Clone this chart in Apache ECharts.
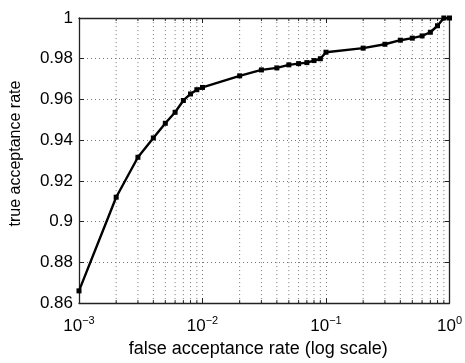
<!DOCTYPE html>
<html>
<head>
<meta charset="utf-8">
<script src="https://cdn.jsdelivr.net/npm/echarts@6/dist/echarts.min.js"></script>
<style>html,body{margin:0;padding:0;background:#fff;}#c{width:465px;height:363px;}</style>
</head>
<body>
<div id="c"></div>
<script>
var far = [0.001,0.002,0.003,0.004,0.005,0.006,0.007,0.008,0.009,0.01,0.02,0.03,0.04,0.05,0.06,0.07,0.08,0.09,0.1,0.2,0.3,0.4,0.5,0.6,0.7,0.8,0.9,1];
var tar = [0.866,0.912,0.9316,0.9411,0.9483,0.9537,0.9595,0.9627,0.9648,0.9659,0.9716,0.9745,0.9755,0.977,0.9776,0.9781,0.9791,0.980,0.9832,0.9852,0.9871,0.9891,0.9901,0.9912,0.993,0.9962,1.0,1.0];
var xTicks = [0.001,0.01,0.1,1];
var xTickLabels = ['-3','-2','-1','0'];
var minorTicks = [0.002,0.003,0.004,0.005,0.006,0.007,0.008,0.009,0.02,0.03,0.04,0.05,0.06,0.07,0.08,0.09,0.2,0.3,0.4,0.5,0.6,0.7,0.8,0.9];
var yMin = 0.86, yMax = 1, yStep = 0.02;

var FONT = 'Liberation Sans, Arial, Helvetica, sans-serif';
var AX = '#222';
var GRIDC = '#777';
var chart = echarts.init(document.getElementById('c'), null, {renderer:'canvas'});

function xFmt(v){
  for (var i=0;i<xTicks.length;i++){
    if (Math.abs(Math.log10(v)-Math.log10(xTicks[i]))<1e-6) return '{b|10}{s|' + xTickLabels[i].replace('-','\u2212') + '}';
  }
  return '';
}
var pts = far.map(function(x,i){return [x, tar[i]];});

var common = {
  type:'log', logBase:10, min:0.001, max:1,
  axisLine:{show:true, onZero:false, lineStyle:{color:AX, width:1.3}},
  axisTick:{show:true, inside:true, length:5, lineStyle:{color:AX, width:1}},
};
chart.setOption({
  animation:false,
  backgroundColor:'#fff',
  grid:{left:79, right:14, top:18, bottom:59, containLabel:false},
  xAxis:[
    Object.assign({}, common, {
      position:'bottom',
      name:'false acceptance rate (log scale)', nameLocation:'middle', nameGap:36,
      nameTextStyle:{color:'#000', fontSize:18, fontFamily:FONT, padding:[0,12,0,0]},
      axisLabel:{show:true, margin:12, formatter:xFmt, color:'#000',
        rich:{b:{fontSize:17, fontFamily:FONT, color:'#000'}, s:{fontSize:11, fontFamily:FONT, color:'#000', padding:[0,0,12,0]}}},
      splitLine:{show:true, lineStyle:{color:GRIDC, type:[1,3], width:1}}
    }),
    Object.assign({}, common, {
      position:'top',
      axisLabel:{show:false}, splitLine:{show:false}
    })
  ],
  yAxis:[
    {type:'value', min:yMin, max:yMax, interval:yStep, position:'left',
     name:'true acceptance rate', nameLocation:'middle', nameGap:55,
     nameTextStyle:{color:'#000', fontSize:16, fontFamily:FONT, padding:[0,0,0,14]},
     axisLine:{show:true, lineStyle:{color:AX, width:1.3}},
     axisTick:{show:true, inside:true, length:5, lineStyle:{color:AX}},
     axisLabel:{color:'#000', fontSize:17, fontFamily:FONT, margin:6},
     splitLine:{show:true, lineStyle:{color:GRIDC, type:[1,3], width:1}}},
    {type:'value', min:yMin, max:yMax, interval:yStep, position:'right',
     axisLine:{show:true, lineStyle:{color:AX, width:1.3}},
     axisTick:{show:true, inside:true, length:5, lineStyle:{color:AX}},
     axisLabel:{show:false}, splitLine:{show:false}}
  ],
  series:[
    {type:'custom', xAxisIndex:0, yAxisIndex:0, silent:true, z:1,
     data: minorTicks.map(function(x){return [x];}),
     renderItem:function(params, api){
       var x = api.value(0);
       var b = api.coord([x, yMin]), t = api.coord([x, yMax]);
       return {type:'group', children:[
         {type:'line', shape:{x1:b[0], y1:b[1], x2:t[0], y2:t[1]}, style:{stroke:GRIDC, lineWidth:1, lineDash:[1,3]}},
         {type:'line', shape:{x1:b[0], y1:b[1], x2:b[0], y2:b[1]-3}, style:{stroke:AX, lineWidth:1}},
         {type:'line', shape:{x1:t[0], y1:t[1], x2:t[0], y2:t[1]+3}, style:{stroke:AX, lineWidth:1}}
       ]};
     }},
    {type:'line', xAxisIndex:0, yAxisIndex:0, data:pts, z:5,
     symbol:'rect', symbolSize:5, showSymbol:true,
     lineStyle:{color:'#000', width:2.4}, itemStyle:{color:'#000'}}
  ]
});
</script>
</body>
</html>
